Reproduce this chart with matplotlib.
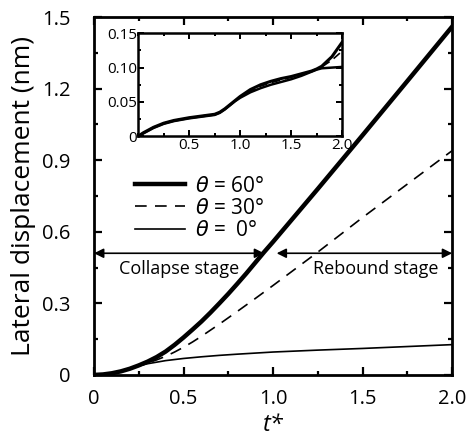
import numpy as np
import matplotlib.pyplot as plt
from matplotlib.ticker import MultipleLocator

# main panel: lateral displacement vs t*
t60 = [0, 0.05, 0.1, 0.15, 0.2, 0.25, 0.3, 0.35, 0.4, 0.45, 0.5, 0.55, 0.6, 0.65, 0.7,
       0.75, 0.8, 0.85, 0.9, 0.95, 1.0, 1.25, 1.5, 1.75, 2.0]
d60 = [0, 0.002, 0.007, 0.015, 0.026, 0.04, 0.056, 0.075, 0.098, 0.126, 0.157, 0.19, 0.224,
       0.261, 0.3, 0.34, 0.382, 0.425, 0.47, 0.515, 0.558, 0.78, 1.005, 1.232, 1.46]
t30 = [0, 0.05, 0.1, 0.15, 0.2, 0.25, 0.3, 0.35, 0.4, 0.45, 0.5, 0.55, 0.6, 0.7, 0.8, 0.9,
       1.0, 1.25, 1.5, 1.75, 2.0]
d30 = [0, 0.002, 0.007, 0.015, 0.025, 0.037, 0.05, 0.063, 0.078, 0.096, 0.116, 0.138, 0.162,
       0.213, 0.266, 0.32, 0.375, 0.515, 0.66, 0.80, 0.94]
t0 = [0, 0.05, 0.1, 0.15, 0.2, 0.25, 0.3, 0.4, 0.5, 0.6, 0.7, 0.8, 1.0, 1.25, 1.5, 1.75, 2.0]
d0 = [0, 0.003, 0.008, 0.017, 0.028, 0.038, 0.047, 0.06, 0.069, 0.076, 0.082, 0.087, 0.096,
      0.104, 0.111, 0.119, 0.127]

# inset
ti = [0, 0.05, 0.1, 0.15, 0.2, 0.25, 0.35, 0.5, 0.6, 0.7, 0.75, 0.8, 0.85, 0.9, 0.95, 1.0,
      1.05, 1.1, 1.2, 1.3, 1.4, 1.5, 1.6, 1.7, 1.75, 1.8, 1.9, 2.0]
di60 = [0, 0.005, 0.009, 0.013, 0.016, 0.019, 0.023, 0.027, 0.029, 0.031, 0.032, 0.035, 0.040,
        0.046, 0.052, 0.058, 0.063, 0.068, 0.075, 0.080, 0.084, 0.087, 0.091, 0.095, 0.098,
        0.102, 0.116, 0.137]
di30 = [0, 0.005, 0.009, 0.013, 0.016, 0.019, 0.023, 0.027, 0.029, 0.031, 0.032, 0.035, 0.040,
        0.046, 0.052, 0.057, 0.062, 0.066, 0.073, 0.078, 0.082, 0.086, 0.090, 0.095, 0.098,
        0.101, 0.111, 0.124]
di0 = [0, 0.004, 0.008, 0.012, 0.015, 0.018, 0.022, 0.026, 0.028, 0.030, 0.031, 0.034, 0.039,
       0.045, 0.051, 0.056, 0.060, 0.064, 0.070, 0.075, 0.079, 0.083, 0.088, 0.094, 0.097,
       0.099, 0.100, 0.101]

labels = [r'$\theta$ = 60°', r'$\theta$ = 30°', r'$\theta$ =  0°']
stage_y = 0.51

plt.rcParams['font.family'] = ['Open Sans', 'DejaVu Sans']


def style_axes(ax, lw, major, minor, size):
    for s in ax.spines.values():
        s.set_linewidth(lw)
    ax.tick_params(which='both', direction='in', top=True, right=True, width=lw * 0.8)
    ax.tick_params(which='major', length=major, labelsize=size)
    ax.tick_params(which='minor', length=minor)


fig = plt.figure(figsize=(4.7, 4.38), dpi=100)
ax = fig.add_axes([0.2, 0.144, 0.762, 0.817])
ax.plot(t60, d60, color='k', lw=3.2, label=labels[0])
ax.plot(t30, d30, color='k', lw=1.2, ls=(0, (7, 5)), label=labels[1])
ax.plot(t0, d0, color='k', lw=1.2, label=labels[2])

ax.set_xlim(0, 2.0)
ax.set_ylim(0, 1.5)
ax.set_xticks([0, 0.5, 1.0, 1.5, 2.0])
ax.set_xticklabels(['0', '0.5', '1.0', '1.5', '2.0'])
ax.xaxis.set_minor_locator(MultipleLocator(0.25))
ax.set_yticks([0, 0.3, 0.6, 0.9, 1.2, 1.5])
ax.set_yticklabels(['0', '0.3', '0.6', '0.9', '1.2', '1.5'])
ax.yaxis.set_minor_locator(MultipleLocator(0.15))
style_axes(ax, 2.0, 6, 3, 14.5)
ax.tick_params(axis='x', pad=10)
ax.tick_params(axis='y', pad=17)
ax.set_xlabel('t*', style='italic', fontsize=17, labelpad=3)
ax.set_ylabel('Lateral displacement (nm)', fontsize=19, labelpad=4)

arrow = dict(arrowstyle='<|-|>', color='k', lw=1.2, shrinkA=0, shrinkB=0, mutation_scale=14)
ax.annotate('', xy=(0.0, stage_y), xytext=(0.95, stage_y), arrowprops=arrow)
ax.annotate('', xy=(1.02, stage_y), xytext=(2.0, stage_y), arrowprops=arrow)
ax.text(0.475, 0.445, 'Collapse stage', ha='center', va='center', fontsize=13)
ax.text(1.575, 0.445, 'Rebound stage', ha='center', va='center', fontsize=13)

ax.legend(loc='upper left', bbox_to_anchor=(0.09, 0.58), frameon=False, fontsize=15,
          handlelength=2.4, handletextpad=0.5, labelspacing=0.05, borderaxespad=0)

ins = fig.add_axes([0.294, 0.689, 0.434, 0.235])
ins.plot(ti, di60, color='k', lw=2.2)
ins.plot(ti, di30, color='k', lw=1.2, ls=(0, (5, 3)))
ins.plot(ti, di0, color='k', lw=1.8)
ins.set_xlim(0, 2.0)
ins.set_ylim(0, 0.15)
ins.set_xticks([0.5, 1.0, 1.5, 2.0])
ins.set_xticklabels(['0.5', '1.0', '1.5', '2.0'])
ins.xaxis.set_minor_locator(MultipleLocator(0.25))
ins.set_yticks([0, 0.05, 0.10, 0.15])
ins.set_yticklabels(['0', '0.05', '0.10', '0.15'])
ins.yaxis.set_minor_locator(MultipleLocator(0.025))
style_axes(ins, 1.8, 4, 2.5, 11)
ins.tick_params(pad=1)

fig.savefig('out.png', dpi=100)
